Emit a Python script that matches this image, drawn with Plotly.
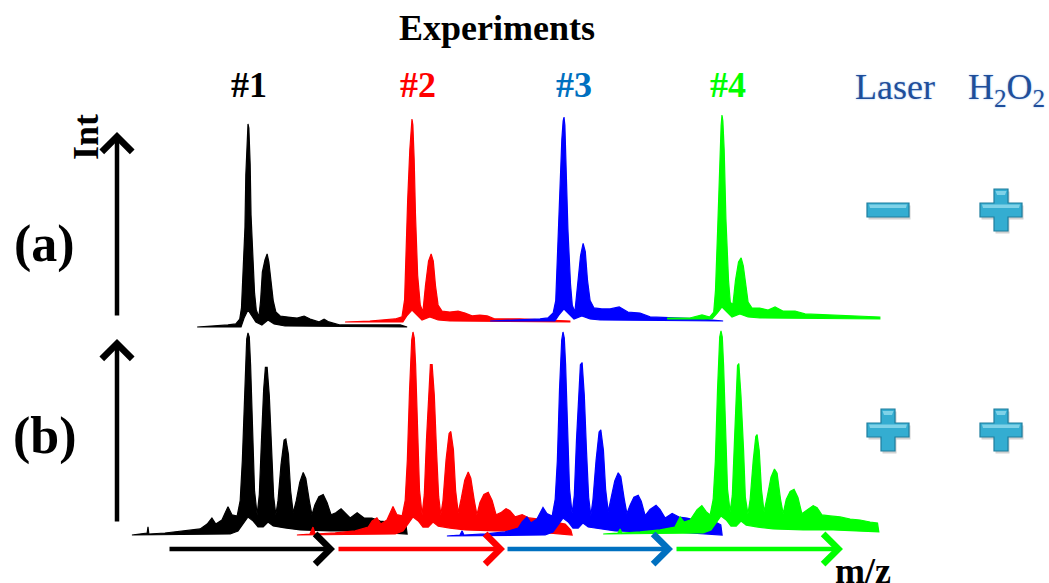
import plotly.graph_objects as go

W, H = 1049, 583

# ------------------------------------------------------------------
# DATA  (m/z, relative intensity %)
# each spectrum is given by its upper and lower envelope
# ------------------------------------------------------------------
experiments = ["#1", "#2", "#3", "#4"]
exp_colors = ["#000000", "#FF0000", "#0000FF", "#00FF00"]
exp_text_colors = ["#000000", "#FF0000", "#0070C0", "#00FF00"]
arrow_colors = ["#000000", "#FF0000", "#0070C0", "#00FF00"]
rows = ["(a)", "(b)"]
laser = ["minus", "plus"]      # row (a), row (b)
h2o2 = ["plus", "plus"]

# ---- row (a): laser off, H2O2 on ----
a1_upper = [(883, 0), (924, 0.5), (954, 1.0), (972, 1.5), (981, 3.9), (985, 9.4), (990, 33), (993, 49),
            (995, 75), (998, 95), (1000, 100), (1002, 98), (1005, 80), (1007, 55), (1010, 38), (1015, 17),
            (1019, 8.4), (1025, 4.9), (1029, 13), (1033, 27), (1039, 33), (1044, 36), (1048, 32), (1054, 21),
            (1058, 13), (1064, 7.4), (1074, 5.4), (1092, 4.9), (1113, 4.4), (1129, 5.4), (1143, 3.9),
            (1163, 2.5), (1175, 3.9), (1186, 2.5), (1212, 1.0), (1281, 1.0), (1350, 1.0), (1366, 0)]
a1_lower = [(883, 0), (984, 0), (991, 4.4), (1000, 8.4), (1009, 5.4), (1018, 2.5), (1032, 1), (1046, 3.4),
            (1060, 1.5), (1085, 0.5), (1366, 0)]

a2_upper = [(846, 0), (903, 0.5), (961, 1.5), (977, 2.5), (983, 11), (986, 33), (990, 60), (995, 85),
            (998, 97), (1000, 100), (1002, 97), (1005, 80), (1008, 53), (1013, 23), (1019, 8.4), (1025, 4.9),
            (1031, 18), (1038, 30), (1044, 33.5), (1049, 30), (1054, 18), (1060, 8.4), (1069, 5.4),
            (1087, 4.9), (1106, 5.4), (1122, 4.4), (1138, 3.0), (1156, 3.4), (1173, 3.0), (1191, 1.5),
            (1248, 1.5), (1306, 1.0), (1363, 0.5)]
a2_lower = [(846, 0), (979, 0), (988, 3), (1000, 5.9), (1012, 3.4), (1023, 1), (1041, 2.5), (1060, 1),
            (1087, 0.5), (1363, 0)]

a3_upper = [(830, 0), (899, 0.5), (945, 1.0), (963, 1.5), (975, 3.9), (981, 10), (985, 35), (990, 64),
            (995, 89), (998, 98), (1000, 100), (1002, 96), (1005, 76), (1009, 45), (1015, 18), (1019, 7.8),
            (1025, 4.4), (1031, 18), (1038, 32), (1044, 38), (1049, 34), (1054, 20), (1060, 10), (1069, 6.4),
            (1087, 5.9), (1106, 5.9), (1127, 6.9), (1147, 4.4), (1175, 3.9), (1198, 2.0), (1244, 1.5),
            (1313, 1.0), (1366, 0)]
a3_lower = [(830, 0), (979, 0), (988, 2.9), (1000, 5.9), (1012, 3.4), (1023, 1), (1041, 2.5), (1060, 1),
            (1083, 0.5), (1366, 0)]

a4_upper = [(874, 0.5), (926, 0.5), (954, 2.0), (972, 1.0), (981, 3.4), (985, 14), (990, 44), (995, 78),
            (998, 95), (1000, 100), (1002, 97), (1005, 83), (1009, 49), (1015, 19), (1019, 8.3), (1025, 6.9),
            (1031, 19), (1038, 28), (1044, 30), (1049, 26), (1054, 17), (1060, 8.3), (1069, 5.4), (1087, 5.4),
            (1106, 4.4), (1122, 5.9), (1140, 3.9), (1168, 3.9), (1191, 2.5), (1248, 2.0), (1306, 1.5),
            (1363, 1.0)]
a4_lower = [(874, 0), (977, 0), (989, 2.9), (1000, 5.9), (1012, 3.4), (1023, 1), (1041, 2.5), (1060, 1),
            (1087, 0.5), (1363, 0)]

# ---- row (b): laser on, H2O2 on ----
b1_upper = [(733, 0), (768, 1.0), (770, 4.0), (772, 0.5), (809, 1.0), (855, 2.0), (890, 3.0), (906, 5.4),
            (917, 8.4), (926, 5.4), (940, 7.4), (954, 14), (963, 10), (975, 9.4), (982, 17), (987, 37),
            (992, 72), (997, 97), (1000, 100), (1003, 98), (1006, 84), (1010, 52), (1015, 22), (1021, 10),
            (1026, 20), (1031, 47), (1036, 72), (1040, 83), (1044, 83), (1049, 69), (1054, 42), (1059, 19),
            (1064, 10), (1069, 17), (1076, 35), (1083, 47), (1087, 47.5), (1093, 40), (1098, 22), (1104, 11),
            (1111, 17), (1119, 26), (1127, 31), (1133, 28), (1141, 17), (1147, 10), (1154, 15), (1163, 19),
            (1173, 20), (1182, 16), (1191, 10), (1202, 11), (1214, 13), (1223, 11), (1235, 8.4), (1251, 11),
            (1267, 8.4), (1285, 8.4), (1304, 6.9), (1327, 6.4), (1350, 5.9), (1363, 5.4), (1366, 0.5)]
b1_lower = [(733, 0), (959, 0.5), (977, 2.0), (989, 5.4), (1000, 8.9), (1012, 6.9), (1023, 4.0), (1035, 4.0),
            (1046, 6.4), (1058, 4.5), (1085, 3.5), (1120, 2.5), (1189, 2.0), (1258, 2.0), (1366, 0.5)]

b2_upper = [(733, 0), (763, 0.5), (770, 3.9), (775, 0.5), (821, 1.0), (867, 2.0), (897, 3.9), (906, 6.9),
            (917, 8.4), (926, 5.4), (940, 7.4), (954, 14), (963, 10), (975, 9.4), (982, 17), (987, 37),
            (992, 71), (997, 96), (1000, 100), (1003, 97), (1006, 84), (1010, 52), (1015, 22), (1021, 10),
            (1026, 20), (1031, 47), (1036, 71), (1040, 84), (1044, 84), (1049, 69), (1054, 42), (1059, 19),
            (1064, 10), (1069, 17), (1076, 37), (1083, 50), (1087, 51), (1093, 42), (1098, 22), (1104, 11),
            (1111, 18), (1119, 27), (1127, 31), (1133, 28), (1141, 17), (1147, 10), (1154, 16), (1163, 20),
            (1173, 21), (1182, 17), (1191, 10), (1202, 11), (1214, 13), (1223, 12), (1235, 8.9), (1251, 10),
            (1267, 8.4), (1285, 7.9), (1304, 6.9), (1327, 6.4), (1350, 5.4), (1363, 2.5), (1366, 0)]
b2_lower = [(733, 0), (959, 0.5), (977, 2), (989, 5.4), (1000, 8.9), (1012, 6.9), (1023, 3.9), (1035, 3.9),
            (1046, 6.4), (1058, 4.4), (1085, 3.4), (1120, 2.5), (1189, 2), (1258, 2), (1366, 0)]

b3_upper = [(733, 0), (763, 0.5), (768, 2.5), (772, 0.5), (821, 1.0), (867, 2.0), (897, 3.9), (906, 6.9),
            (917, 9.3), (926, 6.4), (940, 8.3), (954, 14), (963, 11), (975, 9.8), (982, 18), (987, 37),
            (992, 72), (997, 96), (1000, 100), (1003, 97), (1006, 84), (1010, 52), (1015, 23), (1021, 11),
            (1026, 20), (1031, 47), (1036, 72), (1040, 84), (1044, 85), (1049, 69), (1054, 42), (1059, 19),
            (1064, 10), (1069, 18), (1076, 37), (1083, 51), (1087, 52), (1093, 42), (1098, 23), (1104, 12),
            (1111, 19), (1119, 27), (1127, 31), (1133, 29), (1141, 18), (1147, 11), (1154, 15), (1163, 19),
            (1173, 20), (1180, 17), (1189, 10), (1200, 13), (1214, 15), (1223, 13), (1235, 8.8), (1251, 11),
            (1267, 9.3), (1285, 8.8), (1304, 7.8), (1327, 7.4), (1350, 6.9), (1363, 5.4), (1366, 0.5)]
b3_lower = [(733, 0), (959, 0.5), (977, 2), (989, 5.4), (1000, 8.8), (1012, 6.9), (1023, 3.9), (1035, 3.9),
            (1046, 6.4), (1058, 4.4), (1085, 3.4), (1120, 2.5), (1189, 2), (1258, 2), (1366, 0.5)]

b4_upper = [(729, 0), (763, 0.5), (768, 2.5), (772, 0.5), (814, 1.0), (860, 2.0), (894, 3.4), (906, 8.4),
            (915, 5.9), (929, 6.9), (945, 12), (956, 14), (966, 11), (975, 9.4), (982, 17), (987, 36),
            (992, 71), (997, 97), (1000, 100), (1003, 97), (1006, 83), (1010, 51), (1015, 22), (1021, 11),
            (1026, 19), (1031, 46), (1035, 71), (1038, 83), (1041, 84), (1046, 68), (1052, 41), (1056, 18),
            (1062, 9.9), (1067, 17), (1074, 36), (1080, 48), (1083, 49), (1088, 41), (1093, 22), (1099, 11),
            (1106, 18), (1115, 28), (1123, 32), (1129, 30), (1137, 17), (1143, 10), (1150, 17), (1159, 21),
            (1168, 22), (1177, 18), (1186, 10), (1198, 12), (1212, 14), (1221, 13), (1232, 9.4), (1251, 8.9),
            (1274, 8.4), (1297, 7.4), (1320, 6.9), (1343, 5.9), (1360, 5.4), (1363, 1)]
b4_lower = [(729, 0), (959, 0.5), (977, 2), (989, 5.4), (1000, 8.9), (1012, 6.9), (1023, 3.9), (1035, 3.9),
            (1046, 6.4), (1058, 4.4), (1085, 3.4), (1120, 2.5), (1189, 2), (1258, 2), (1363, 1)]

spectra = {
    "a": [(a1_upper, a1_lower), (a2_upper, a2_lower), (a3_upper, a3_lower), (a4_upper, a4_lower)],
    "b": [(b1_upper, b1_lower), (b2_upper, b2_lower), (b3_upper, b3_lower), (b4_upper, b4_lower)],
}

# ------------------------------------------------------------------
# LAYOUT (pixel placement of each small spectrum panel)
# ------------------------------------------------------------------
MZ_RANGE = [700, 1400]
MZ_MAIN = 1000            # m/z of the main peak in each panel
PX_PER_MZ = 1 / 2.3
INT_RANGE = [-5, 105]
# (x of main peak, y of 0 %, y of 100 %) in pixels
panel_px = {
    "a": [(248, 327, 124), (412, 322, 119), (564, 321, 117), (722, 319, 115)],
    "b": [(248, 535, 333), (413, 535, 332), (563, 536, 332), (721, 534, 331)],
}


def px_x(x):
    return x / W


def px_y(y):
    return 1 - y / H


fig = go.Figure()
layout_axes = {}
n = 0
for r in ["a", "b"]:
    for k in range(4):
        n += 1
        upper, lower = spectra[r][k]
        xs = [p[0] for p in upper] + [p[0] for p in reversed(lower)]
        ys = [p[1] for p in upper] + [p[1] for p in reversed(lower)]
        suffix = "" if n == 1 else str(n)
        fig.add_trace(go.Scatter(
            x=xs, y=ys, mode="lines", fill="toself",
            fillcolor=exp_colors[k], line=dict(color=exp_colors[k], width=1.2),
            xaxis="x" + suffix, yaxis="y" + suffix, hoverinfo="skip", showlegend=False))
        peak_x, zero_y, top_y = panel_px[r][k]
        left = peak_x + (MZ_RANGE[0] - MZ_MAIN) * PX_PER_MZ
        right = peak_x + (MZ_RANGE[1] - MZ_MAIN) * PX_PER_MZ
        ppu = (zero_y - top_y) / 100.0
        bottom = zero_y - INT_RANGE[0] * ppu
        top = top_y - (INT_RANGE[1] - 100) * ppu
        layout_axes["xaxis" + suffix] = dict(domain=[px_x(left), px_x(right)], range=MZ_RANGE,
                                             visible=False, fixedrange=True, anchor="y" + suffix)
        layout_axes["yaxis" + suffix] = dict(domain=[px_y(bottom), px_y(top)], range=INT_RANGE,
                                             visible=False, fixedrange=True, anchor="x" + suffix)

fig.update_layout(**layout_axes)

SERIF = "Liberation Serif, Times New Roman, serif"
ann = []


def text(t, x, y, size, color="#000000", bold=True, angle=0, shadow=None):
    f = dict(family=SERIF, size=size, color=color, weight="bold" if bold else "normal")
    if shadow:
        f["shadow"] = shadow
    ann.append(dict(text=t, x=px_x(x), y=px_y(y), xref="paper", yref="paper", showarrow=False,
                    xanchor="center", yanchor="middle", font=f, textangle=angle))


text("Experiments", 497, 28, 36)
for lbl, cx, col in zip(experiments, [248.5, 417.5, 574, 728], exp_text_colors):
    text(lbl, cx, 85, 36, col)
glow = "0px 0px 2px #9CC2EE"
text("Laser", 895, 87, 36, "#1F4E9A", bold=False, shadow=glow)
text("H<sub>2</sub>O<sub>2</sub>", 1006, 89, 36, "#1F4E9A", bold=False, shadow=glow)
text("Int", 86, 137, 36, angle=-90)
text(rows[0], 44, 244, 52)
text(rows[1], 45, 436, 52)
text("m/z", 863, 571, 36)


def arrow(tip, tail, color, width=4.5):
    ann.append(dict(text="", x=px_x(tip[0]), y=px_y(tip[1]), xref="paper", yref="paper",
                    ax=tail[0] - tip[0], ay=tail[1] - tip[1], axref="pixel", ayref="pixel",
                    showarrow=True, arrowhead=4, arrowsize=1.3, arrowwidth=width,
                    arrowcolor=color, standoff=0, startstandoff=0))


# intensity axes
arrow((117, 132), (117, 317), "#000000")
arrow((117, 339), (117, 523), "#000000")
# m/z arrows
xs_arrow = [168, 337, 506, 675]
tips = [335, 505, 673, 843]
for k in range(4):
    arrow((tips[k], 549), (xs_arrow[k], 549), arrow_colors[k])

fig.update_layout(annotations=ann)

# plus / minus symbols (Laser, H2O2 columns)
shapes = []


def poly(points):
    s = "M " + " L ".join(f"{px_x(x):.5f},{px_y(y):.5f}" for x, y in points) + " Z"
    return s


def symbol(kind, cx, cy, L=42, T=14):
    h, t = L / 2, T / 2
    if kind == "plus":
        pts = [(cx - t, cy - h), (cx + t, cy - h), (cx + t, cy - t), (cx + h, cy - t), (cx + h, cy + t),
               (cx + t, cy + t), (cx + t, cy + h), (cx - t, cy + h), (cx - t, cy + t), (cx - h, cy + t),
               (cx - h, cy - t), (cx - t, cy - t)]
    else:
        pts = [(cx - h, cy - t), (cx + h, cy - t), (cx + h, cy + t), (cx - h, cy + t)]
    shadow_pts = [(x + 1.5, y + 2.5) for x, y in pts]
    shapes.append(dict(type="path", path=poly(shadow_pts), xref="paper", yref="paper",
                       fillcolor="rgba(0,0,0,0.18)", line=dict(width=0)))
    shapes.append(dict(type="path", path=poly(pts), xref="paper", yref="paper",
                       fillcolor="#34ADD1", line=dict(color="#1E7E9E", width=1.2)))
    hl = [(cx - h + 2, cy - t + 1.5), (cx + h - 2, cy - t + 1.5), (cx + h - 3, cy - t + 5), (cx - h + 3, cy - t + 5)]
    shapes.append(dict(type="path", path=poly(hl), xref="paper", yref="paper",
                       fillcolor="rgba(190,240,252,0.55)", line=dict(width=0)))
    if kind == "plus":
        hv = [(cx - t + 1.5, cy - h + 2), (cx + t - 1.5, cy - h + 2), (cx + t - 3, cy - h + 6), (cx - t + 3, cy - h + 6)]
        shapes.append(dict(type="path", path=poly(hv), xref="paper", yref="paper",
                           fillcolor="rgba(190,240,252,0.55)", line=dict(width=0)))


symbol(laser[0], 888, 210)
symbol(h2o2[0], 1001, 210)
symbol(laser[1], 888, 430)
symbol(h2o2[1], 1001, 430)

fig.update_layout(shapes=shapes, width=W, height=H, margin=dict(l=0, r=0, t=0, b=0),
                  paper_bgcolor="white", plot_bgcolor="rgba(0,0,0,0)", showlegend=False)

fig.write_html("out.html", config={"displayModeBar": False},
               post_script="document.body.style.margin='0';document.body.style.overflow='hidden';")
